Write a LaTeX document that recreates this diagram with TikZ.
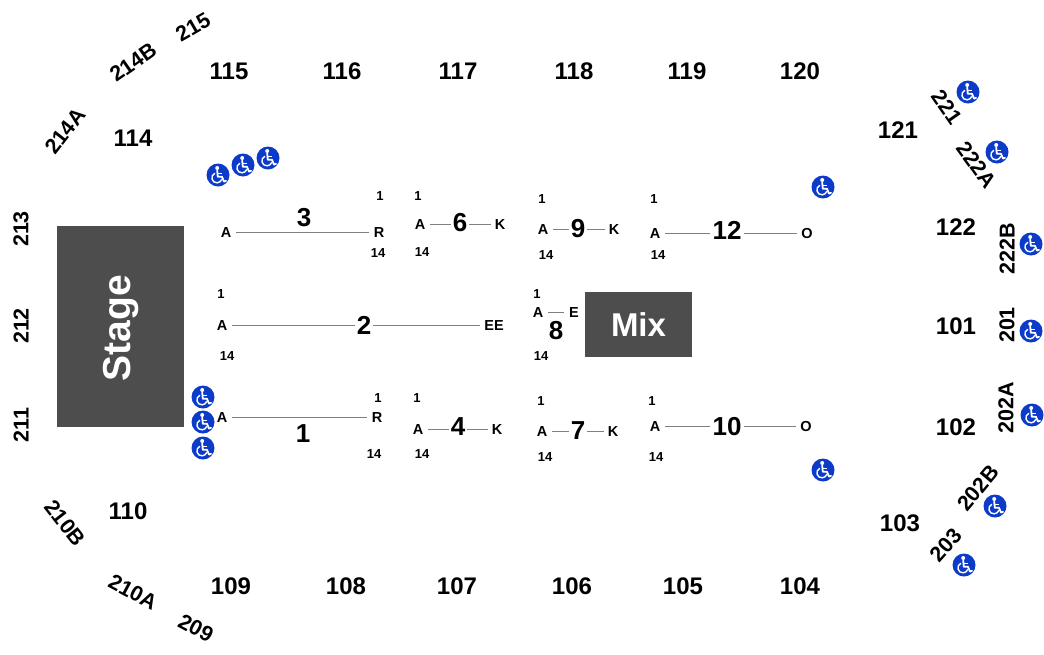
\documentclass[tikz,border=0pt]{standalone}
\usepackage{fontspec}
\setmainfont{Liberation Sans}
\definecolor{blockgray}{HTML}{4D4D4D}
\definecolor{icoblue}{HTML}{0B3BC8}
\tikzset{
    sec/.style={font=\fontsize{24}{24}\selectfont\bfseries,inner sep=0pt},
    secrot/.style={font=\fontsize{21.5}{22}\selectfont\bfseries,inner sep=0pt},
    rownum/.style={font=\fontsize{26}{26}\selectfont\bfseries,inner sep=2pt},
    seat/.style={font=\fontsize{14.5}{15}\selectfont\bfseries,inner sep=0pt,text height=10.5pt,text depth=0pt},
    small/.style={font=\fontsize{13}{13}\selectfont\bfseries,inner sep=0pt},
    block/.style={fill=blockgray,text=white,font=\bfseries},
    rowline/.style={draw=black!50,line width=1pt},
    wheelchair/.pic={
      \fill[icoblue] (0,0) circle (11.5);
      \fill[white] (-0.8,-7) circle (2);
      \draw[white,line width=1.8pt,line cap=round,line join=round] (-0.8,-4.4) -- (-0.2,1.8) -- (4,1.8) -- (6,6.6) -- (8,5.8);
      \draw[white,line width=1.4pt] (-0.4,-1.4) -- (4,-1.4);
      \draw[white,line width=1.4pt] (-3.2,-1.8) .. controls (-8.2,0.8) and (-6.2,8.2) .. (-0.8,7.8) .. controls (1.4,7.6) and (3,6.4) .. (3.8,4.4);
    },
  }
\begin{document}
\begin{tikzpicture}[x=1pt,y=-1pt]
				  \useasboundingbox (0,0) rectangle (1044,654);
				  %blocs
				  \node[block,minimum width=127pt,minimum height=201pt,inner sep=0pt] (stage) at (120.5,326.5) {};
				  \node[text=white,font=\fontsize{39}{39}\selectfont\bfseries,rotate=90,inner sep=0pt] (stagetxt) at (121,328) {Stage};
				  \node[block,minimum width=107pt,minimum height=65pt,inner sep=0pt,font=\fontsize{33}{33}\selectfont\bfseries] (mix) at (638.5,324.5) {Mix};

				  %sections droites
				  \foreach \s/\x/\y in {115/229/71,116/342/71,117/458/71,118/574/71,119/687/71,120/800/71,
				                        109/231/586,108/346/586,107/457/586,106/572/586,105/683/586,104/800/586,
				                        114/133/138,110/128/511,121/898/130,122/956/227,101/956/326,102/956/427,103/900/523}
				    \node[sec] (s\s) at (\x,\y) {\s};

				  %sections tournees
				  \foreach \s/\x/\y/\a in {214B/133/62/35,215/193/27/30,214A/65/131/52,213/21/229/90,212/21/326/90,211/21/425/90,
				                           210B/65/523/-52,210A/133/592/-28,209/196/628/-28,
				                           221/947/107/-55,222A/977/165/-54,222B/1007/249/90,201/1007/325/90,202A/1006/408/90,202B/978/488/50,203/946/545/48}
				    \node[secrot,rotate=\a] (s\s) at (\x,\y) {\s};

				  %rangees : nom, A, fin, numero, 1, 14
				  \foreach \r/\ax/\ay/\e/\ex/\ey/\nx/\ny/\ux/\uy/\dx/\dy in {
				      3/226/232/R/379/232/304/218/380/196/378/253,
				      1/222/417/R/377/417/303/434/378/398/374/454,
				      8/538/312/E/574/312/556/331/537/294/541/356}{
				    \node[seat] (a\r) at (\ax,\ay) {A};
				    \node[seat] (e\r) at (\ex,\ey) {\e};
				    \node[rownum] (n\r) at (\nx,\ny) {\r};
				    \node[small] (u\r) at (\ux,\uy) {1};
				    \node[small] (d\r) at (\dx,\dy) {14};
				    \draw[rowline] ([xshift=5pt]a\r.east) -- ([xshift=-5pt]e\r.west);
				  }
				  \foreach \r/\ax/\ay/\e/\ex/\ey/\nx/\ny/\ux/\uy/\dx/\dy in {
				      6/420/224/K/500/224/460/223/418/196/422/252,
				      9/543/229/K/614/229/578/229/542/199/546/255,
				      12/655/233/O/807/233/727/230/654/199/658/255,
				      2/222/325/EE/494/325/364/325/221/294/227/356,
				      4/418/429/K/497/429/458/427/417/398/422/454,
				      7/542/431/K/613/431/578/431/541/401/545/457,
				      10/655/426/O/806/426/727/427/652/401/656/457}{
				    \node[seat] (a\r) at (\ax,\ay) {A};
				    \node[seat] (e\r) at (\ex,\ey) {\e};
				    \node[rownum] (n\r) at (\nx,\ny) {\r};
				    \node[small] (u\r) at (\ux,\uy) {1};
				    \node[small] (d\r) at (\dx,\dy) {14};
				    \draw[rowline] ([xshift=5pt]a\r.east) -- (n\r.west |- a\r.east) (n\r.east |- a\r.east) -- ([xshift=-4pt]e\r.west);
				  }

				  %fauteuils
				  \foreach \x/\y in {218/175,243/165,268/158,203/397,203/422,203/448,823/187,823/470,
				                     968/92,997/152,1031/244,1031/331,1032/415,995/506,964/565}
				    \pic at (\x,\y) {wheelchair};
\end{tikzpicture}
\end{document}
